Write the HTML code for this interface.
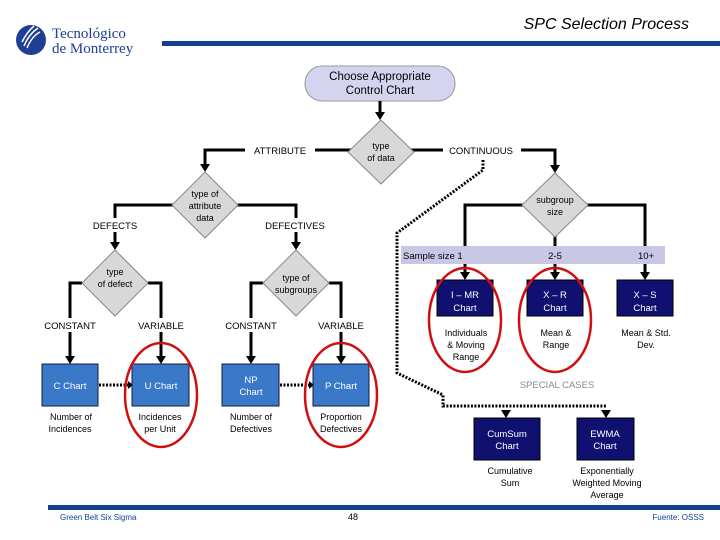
<!DOCTYPE html>
<html><head><meta charset="utf-8"><style>
html,body{margin:0;padding:0;background:#fff;}
svg{display:block;}
text{font-family:"Liberation Sans",sans-serif;}
</style></head><body>
<svg width="720" height="540" viewBox="0 0 720 540" xmlns="http://www.w3.org/2000/svg">
<!-- logo -->
<circle cx="31" cy="40" r="15" fill="#1f3f94"/>
<path d="M24,46 q5,-12 14,-18 M27,48 q5,-12 13,-16 M22,42 q5,-10 12,-16" stroke="#fff" stroke-width="1.5" fill="none"/>
<text x="52" y="38" font-size="15" fill="#1f3f94" style="font-family:'Liberation Serif',serif">Tecnológico</text>
<text x="52" y="53" font-size="15" fill="#1f3f94" style="font-family:'Liberation Serif',serif">de Monterrey</text>
<text x="689" y="29" font-size="16" font-style="italic" text-anchor="end">SPC Selection Process</text>
<rect x="162" y="41" width="558" height="5" fill="#123e94"/>

<!-- start -->
<rect x="305" y="66" width="150" height="35" rx="17" fill="#d4d4f0" stroke="#999"/>
<text x="380" y="80" font-size="11.5" text-anchor="middle">Choose Appropriate</text>
<text x="380" y="94" font-size="11.5" text-anchor="middle">Control Chart</text>

<g stroke="#000" stroke-width="3" fill="none">
<line x1="380" y1="101" x2="380" y2="114"/>
<polyline points="205,166 205,150 555,150 555,166"/>
<polyline points="115,242 115,205 296,205 296,242"/>
<polyline points="465,246 465,205 645,205 645,246"/>
<line x1="555" y1="230" x2="555" y2="246"/>
<line x1="465" y1="264" x2="465" y2="274"/>
<line x1="555" y1="264" x2="555" y2="274"/>
<line x1="645" y1="264" x2="645" y2="274"/>
<polyline points="70,358 70,283 82,283"/>
<polyline points="148,283 161,283 161,358"/>
<polyline points="251,358 251,283 263,283"/>
<polyline points="329,283 341,283 341,358"/>
</g>
<g fill="#000">
<path d="M375,112 L385,112 L380,120 z"/>
<path d="M200,164 L210,164 L205,172 z"/>
<path d="M550,165 L560,165 L555,173 z"/>
<path d="M110,242 L120,242 L115,250 z"/>
<path d="M291,242 L301,242 L296,250 z"/>
<path d="M460,272 L470,272 L465,280 z"/>
<path d="M550,272 L560,272 L555,280 z"/>
<path d="M640,272 L650,272 L645,280 z"/>
<path d="M65,356 L75,356 L70,364 z"/>
<path d="M156,356 L166,356 L161,364 z"/>
<path d="M246,356 L256,356 L251,364 z"/>
<path d="M336,356 L346,356 L341,364 z"/>
<path d="M501,410 L511,410 L506,418 z"/>
<path d="M601,410 L611,410 L606,418 z"/>
</g>
<!-- labels with white bg -->
<rect x="245" y="143" width="70" height="14" fill="#fff"/>
<text x="280" y="154" font-size="9.5" text-anchor="middle">ATTRIBUTE</text>
<rect x="443" y="143" width="78" height="14" fill="#fff"/>
<text x="481" y="154" font-size="9.5" text-anchor="middle">CONTINUOUS</text>
<rect x="85" y="218" width="60" height="14" fill="#fff"/>
<text x="115" y="229" font-size="9.5" text-anchor="middle">DEFECTS</text>
<rect x="260" y="218" width="70" height="14" fill="#fff"/>
<text x="295" y="229" font-size="9.5" text-anchor="middle">DEFECTIVES</text>
<g font-size="9.5" text-anchor="middle">
<rect x="40" y="318" width="60" height="14" fill="#fff"/><text x="70" y="329">CONSTANT</text>
<rect x="131" y="318" width="60" height="14" fill="#fff"/><text x="161" y="329">VARIABLE</text>
<rect x="221" y="318" width="60" height="14" fill="#fff"/><text x="251" y="329">CONSTANT</text>
<rect x="311" y="318" width="60" height="14" fill="#fff"/><text x="341" y="329">VARIABLE</text>
</g>

<!-- diamonds -->
<g fill="#d8d8d8" stroke="#888">
<path d="M381,120 L414,152 L381,184 L348,152 z"/>
<path d="M205,172 L238,205 L205,238 L172,205 z"/>
<path d="M555,173 L588,205 L555,237 L522,205 z"/>
<path d="M115,250 L148,283 L115,316 L82,283 z"/>
<path d="M296,250 L329,283 L296,316 L263,283 z"/>
</g>
<g font-size="9" text-anchor="middle">
<text x="381" y="149">type</text><text x="381" y="161">of data</text>
<text x="205" y="197">type of</text><text x="205" y="209">attribute</text><text x="205" y="221">data</text>
<text x="555" y="203">subgroup</text><text x="555" y="215">size</text>
<text x="115" y="275">type</text><text x="115" y="287">of defect</text>
<text x="296" y="281">type of</text><text x="296" y="293">subgroups</text>
</g>

<!-- dotted special -->
<polyline points="483,160 483,170 397,233 397,373 443,395 443,406 606,406" fill="none" stroke="#000" stroke-width="3" stroke-dasharray="2,1.5"/>
<line x1="99" y1="385" x2="128" y2="385" stroke="#000" stroke-width="3" stroke-dasharray="2,1.5"/>
<line x1="280" y1="385" x2="309" y2="385" stroke="#000" stroke-width="3" stroke-dasharray="2,1.5"/>
<path d="M128,381 L133,385 L128,389 z M309,381 L314,385 L309,389z"/>

<!-- band -->
<rect x="401" y="246" width="264" height="18" fill="#c8c8e6"/>
<g font-size="9.5">
<text x="403" y="259">Sample size 1</text>
<text x="555" y="259" text-anchor="middle">2-5</text>
<text x="646" y="259" text-anchor="middle">10+</text>
</g>

<!-- navy boxes -->
<g fill="#101070" stroke="#000">
<rect x="437" y="280" width="56" height="36"/>
<rect x="527" y="280" width="56" height="36"/>
<rect x="617" y="280" width="56" height="36"/>
<rect x="474" y="418" width="66" height="42"/>
<rect x="577" y="418" width="57" height="42"/>
</g>
<g font-size="9.5" fill="#fff" text-anchor="middle">
<text x="465" y="298">I – MR</text><text x="465" y="311">Chart</text>
<text x="555" y="298">X – R</text><text x="555" y="311">Chart</text>
<text x="645" y="298">X – S</text><text x="645" y="311">Chart</text>
<text x="507" y="437">CumSum</text><text x="507" y="449">Chart</text>
<text x="605" y="437">EWMA</text><text x="605" y="449">Chart</text>
</g>
<g font-size="9" text-anchor="middle">
<text x="466" y="336">Individuals</text><text x="466" y="348">&amp; Moving</text><text x="466" y="360">Range</text>
<text x="556" y="336">Mean &amp;</text><text x="556" y="348">Range</text>
<text x="646" y="336">Mean &amp; Std.</text><text x="646" y="348">Dev.</text>
<text x="510" y="474">Cumulative</text><text x="510" y="486">Sum</text>
<text x="607" y="474">Exponentially</text><text x="607" y="486">Weighted Moving</text><text x="607" y="498">Average</text>
</g>
<text x="557" y="388" font-size="9.5" fill="#888" text-anchor="middle">SPECIAL CASES</text>

<!-- blue boxes -->
<g fill="#3a78c8" stroke="#1a1a40">
<rect x="42" y="364" width="56" height="42"/>
<rect x="132" y="364" width="57" height="42"/>
<rect x="222" y="364" width="57" height="42"/>
<rect x="313" y="364" width="56" height="42"/>
</g>
<g font-size="9.5" fill="#fff" text-anchor="middle">
<text x="70" y="389">C Chart</text>
<text x="161" y="389">U Chart</text>
<text x="251" y="383">NP</text><text x="251" y="395">Chart</text>
<text x="341" y="389">P Chart</text>
</g>
<g font-size="9" text-anchor="middle">
<text x="71" y="420">Number of</text><text x="70" y="432">Incidences</text>
<text x="160" y="420">Incidences</text><text x="160" y="432">per Unit</text>
<text x="251" y="420">Number of</text><text x="251" y="432">Defectives</text>
<text x="341" y="420">Proportion</text><text x="341" y="432">Defectives</text>
</g>

<!-- red ellipses -->
<g fill="none" stroke="#d01010" stroke-width="2.5">
<ellipse cx="161" cy="395" rx="36" ry="52"/>
<ellipse cx="341" cy="395" rx="36" ry="52"/>
<ellipse cx="465" cy="320" rx="36" ry="52"/>
<ellipse cx="555" cy="320" rx="36" ry="52"/>
</g>

<!-- footer -->
<rect x="48" y="505" width="672" height="5" fill="#123e94"/>
<text x="60" y="520" font-size="8" fill="#123e94">Green Belt Six Sigma</text>
<text x="353" y="520" font-size="9" text-anchor="middle">48</text>
<text x="704" y="520" font-size="8" fill="#123e94" text-anchor="end">Fuente: OSSS</text>
</svg>
</body></html>
